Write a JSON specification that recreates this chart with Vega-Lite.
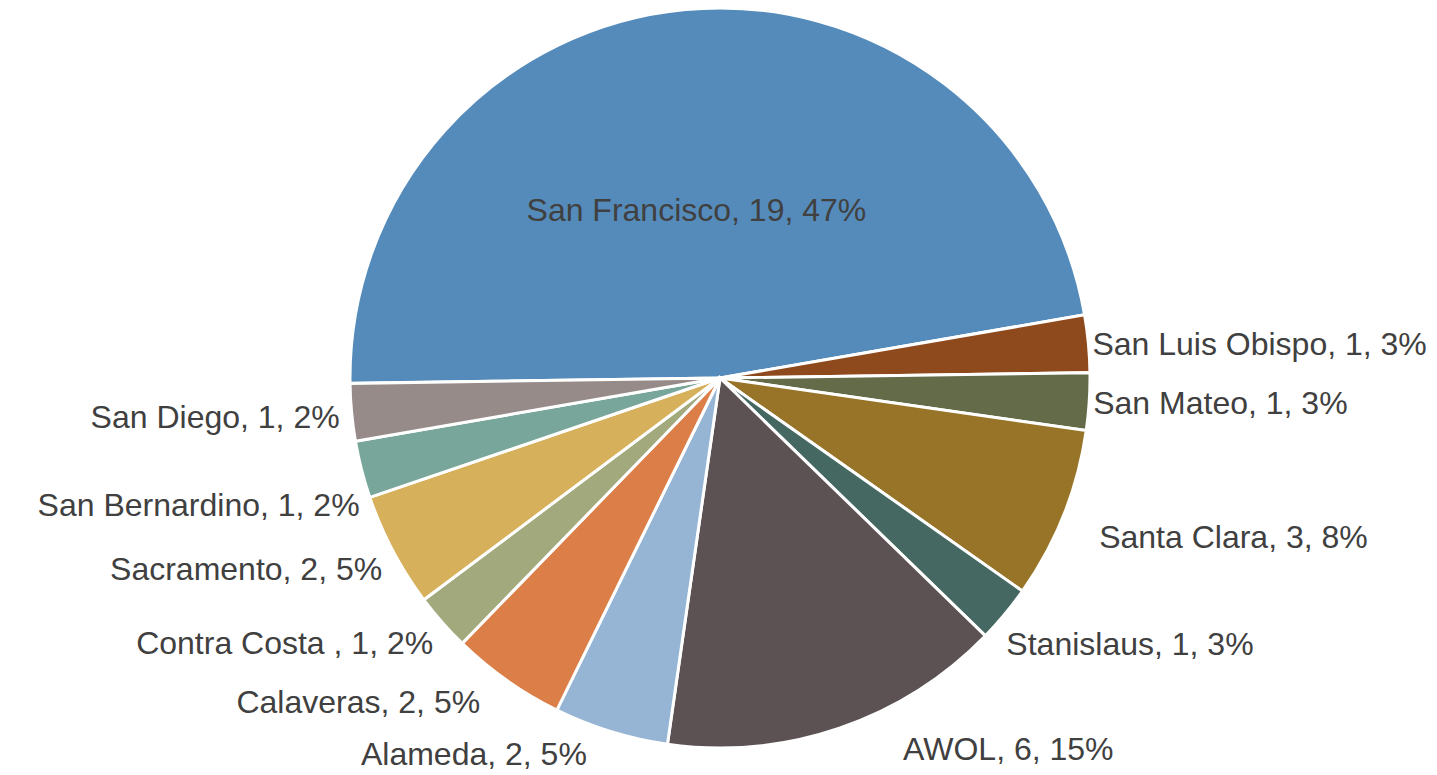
{
  "$schema": "https://vega.github.io/schema/vega-lite/v6.json",
  "width": 1434,
  "height": 756,
  "autosize": "none",
  "padding": {"top": 0, "bottom": 19, "left": 3, "right": 0},
  "background": "white",
  "view": {"stroke": null},
  "data": {
    "values": [
      {"idx": 1, "name": "San Francisco", "value": 19, "label": "San Francisco, 19, 47%"},
      {"idx": 2, "name": "San Luis Obispo", "value": 1, "label": "San Luis Obispo, 1, 3%"},
      {"idx": 3, "name": "San Mateo", "value": 1, "label": "San Mateo, 1, 3%"},
      {"idx": 4, "name": "Santa Clara", "value": 3, "label": "Santa Clara, 3, 8%"},
      {"idx": 5, "name": "Stanislaus", "value": 1, "label": "Stanislaus, 1, 3%"},
      {"idx": 6, "name": "AWOL", "value": 6, "label": "AWOL, 6, 15%"},
      {"idx": 7, "name": "Alameda", "value": 2, "label": "Alameda, 2, 5%"},
      {"idx": 8, "name": "Calaveras", "value": 2, "label": "Calaveras, 2, 5%"},
      {"idx": 9, "name": "Contra Costa", "value": 1, "label": "Contra Costa , 1, 2%"},
      {"idx": 10, "name": "Sacramento", "value": 2, "label": "Sacramento, 2, 5%"},
      {"idx": 11, "name": "San Bernardino", "value": 1, "label": "San Bernardino, 1, 2%"},
      {"idx": 12, "name": "San Diego", "value": 1, "label": "San Diego, 1, 2%"}
    ]
  },
  "encoding": {
    "theta": {"field": "value", "type": "quantitative", "stack": true, "scale": {"domain": [0, 40], "range": [4.698, 10.981]}},
    "order": {"field": "idx", "type": "quantitative", "sort": "ascending"}
  },
  "layer": [
    {
      "mark": {"type": "arc", "outerRadius": 370, "stroke": "white", "strokeWidth": 3},
      "encoding": {
        "color": {
          "field": "name", "type": "nominal", "legend": null,
          "scale": {
            "domain": ["San Francisco", "San Luis Obispo", "San Mateo", "Santa Clara", "Stanislaus", "AWOL", "Alameda", "Calaveras", "Contra Costa", "Sacramento", "San Bernardino", "San Diego"],
            "range": ["#558BBA", "#8E4A1C", "#636B48", "#977428", "#466862", "#5C5253", "#96B5D5", "#DB7E47", "#A2A97D", "#D6B05A", "#79A69A", "#968B89"]
          }
        }
      }
    },
    {
      "mark": {"type": "text", "radius": 168, "align": "center", "baseline": "middle", "dx": -8, "dy": 0, "font": "Liberation Sans", "fontSize": 32, "color": "#404040"},
      "encoding": {"text": {"condition": {"test": "datum.idx == 1", "field": "label"}, "value": ""}}
    },
    {
      "mark": {"type": "text", "radius": 374, "align": "left", "baseline": "middle", "dy": 2, "font": "Liberation Sans", "fontSize": 32, "color": "#404040"},
      "encoding": {"text": {"condition": {"test": "datum.idx == 2 || datum.idx == 3", "field": "label"}, "value": ""}}
    },
    {
      "mark": {"type": "text", "radius": 372, "align": "left", "baseline": "middle", "dy": 30, "font": "Liberation Sans", "fontSize": 32, "color": "#404040"},
      "encoding": {"text": {"condition": {"test": "datum.idx == 5", "field": "label"}, "value": ""}}
    },
    {
      "mark": {"type": "text", "radius": 408, "align": "left", "baseline": "middle", "dy": 9, "font": "Liberation Sans", "fontSize": 32, "color": "#404040"},
      "encoding": {"text": {"condition": {"test": "datum.idx == 4", "field": "label"}, "value": ""}}
    },
    {
      "mark": {"type": "text", "radius": 372, "align": "left", "baseline": "middle", "dx": 63, "dy": 20, "font": "Liberation Sans", "fontSize": 32, "color": "#404040"},
      "encoding": {"text": {"condition": {"test": "datum.idx == 6", "field": "label"}, "value": ""}}
    },
    {
      "mark": {"type": "text", "radius": 380, "align": "right", "baseline": "middle", "dx": -21, "dy": 14, "font": "Liberation Sans", "fontSize": 32, "color": "#404040"},
      "encoding": {"text": {"condition": {"test": "datum.idx == 7 || datum.idx == 8", "field": "label"}, "value": ""}}
    },
    {
      "mark": {"type": "text", "radius": 382, "align": "right", "baseline": "middle", "dy": 14, "font": "Liberation Sans", "fontSize": 32, "color": "#404040"},
      "encoding": {"text": {"condition": {"test": "datum.idx == 9 || datum.idx == 10", "field": "label"}, "value": ""}}
    },
    {
      "mark": {"type": "text", "radius": 382, "align": "right", "baseline": "middle", "dy": 4, "font": "Liberation Sans", "fontSize": 32, "color": "#404040"},
      "encoding": {"text": {"condition": {"test": "datum.idx == 12", "field": "label"}, "value": ""}}
    },
    {
      "mark": {"type": "text", "radius": 372, "align": "right", "baseline": "middle", "dy": 36, "font": "Liberation Sans", "fontSize": 32, "color": "#404040"},
      "encoding": {"text": {"condition": {"test": "datum.idx == 11", "field": "label"}, "value": ""}}
    }
  ]
}
